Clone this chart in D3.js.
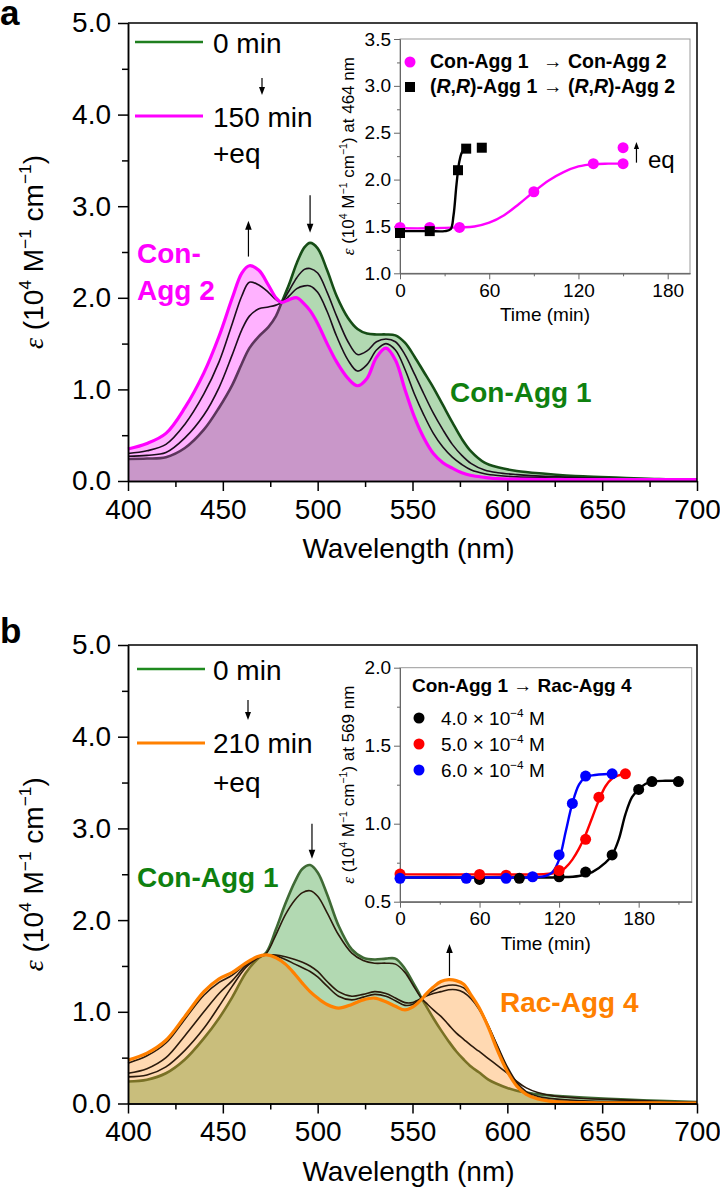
<!DOCTYPE html>
<html><head><meta charset="utf-8">
<script src="https://cdn.jsdelivr.net/npm/d3@7"></script>
<style>body{margin:0;background:#fff}svg{display:block;background:#fff}</style>
</head><body><svg id="c" width="720" height="1195"></svg>
<script>
// ---------------- DATA ----------------
const WL_TICKS = [400,450,500,550,600,650,700];
const WL_MINOR = [425,475,525,575,625,675];
const EPS_TICKS = [0,1,2,3,4,5];
const EPS_MINOR = [0.5,1.5,2.5,3.5,4.5];

// Panel a spectra
const WL_A = [400,410,420,430,440,448,455,460,464,469,474,478,481,485,489,493,496,500,505,510,516,521,526,531,536,541,546,551,556,561,566,571,576,581,588,595,605,620,640,660,680,700];
const A_0MIN = [0.24,0.245,0.26,0.36,0.56,0.80,1.05,1.28,1.45,1.58,1.68,1.80,1.95,2.15,2.38,2.55,2.60,2.54,2.30,2.02,1.78,1.66,1.61,1.60,1.60,1.59,1.51,1.36,1.19,1.02,0.83,0.64,0.46,0.32,0.20,0.15,0.11,0.08,0.05,0.035,0.02,0.015];
const A_T1 = [0.27,0.28,0.31,0.47,0.72,1.02,1.38,1.65,1.80,1.88,1.90,1.92,1.95,2.08,2.22,2.31,2.32,2.27,2.06,1.80,1.52,1.38,1.42,1.52,1.55,1.52,1.38,1.17,0.95,0.74,0.56,0.40,0.28,0.19,0.12,0.09,0.07,0.05,0.035,0.025,0.02,0.015];
const A_T2 = [0.30,0.33,0.40,0.62,0.95,1.30,1.72,2.02,2.17,2.14,2.06,1.98,1.95,2.02,2.10,2.13,2.13,2.06,1.85,1.58,1.32,1.20,1.27,1.43,1.50,1.43,1.22,0.95,0.72,0.52,0.37,0.26,0.18,0.12,0.08,0.06,0.045,0.035,0.025,0.02,0.02,0.015];
const A_150MIN = [0.35,0.41,0.52,0.80,1.18,1.58,2.00,2.27,2.35,2.30,2.14,2.00,1.95,1.98,2.00,1.93,1.86,1.72,1.50,1.30,1.12,1.04,1.12,1.35,1.45,1.32,1.00,0.70,0.47,0.30,0.20,0.14,0.09,0.06,0.04,0.025,0.02,0.015,0.015,0.015,0.015,0.015];

// Panel b spectra
const WL_B = [400,410,420,430,440,448,455,462,468,473,478,483,488,492,496,500,505,511,518,524,530,536,541,546,550,553,555,557,561,565,569,573,577,581,585,590,595,600,605,610,616,625,640,660,680,700];
const B_0MIN = [0.24,0.26,0.33,0.48,0.71,0.93,1.16,1.42,1.57,1.65,1.90,2.18,2.42,2.56,2.60,2.52,2.28,1.94,1.68,1.59,1.57,1.58,1.58,1.47,1.33,1.22,1.14,1.07,0.93,0.80,0.68,0.57,0.48,0.40,0.34,0.26,0.21,0.17,0.14,0.12,0.10,0.085,0.065,0.045,0.03,0.015];
const B_T1 = [0.29,0.31,0.40,0.58,0.82,1.06,1.28,1.48,1.58,1.64,1.84,2.06,2.22,2.30,2.32,2.26,2.08,1.84,1.64,1.56,1.53,1.53,1.52,1.43,1.30,1.20,1.14,1.10,1.02,0.95,0.86,0.77,0.70,0.63,0.57,0.49,0.41,0.33,0.24,0.17,0.12,0.08,0.055,0.04,0.025,0.012];
const B_T2 = [0.33,0.38,0.50,0.74,1.00,1.20,1.34,1.50,1.59,1.62,1.62,1.60,1.57,1.54,1.50,1.44,1.33,1.22,1.17,1.19,1.22,1.20,1.15,1.10,1.10,1.13,1.15,1.17,1.20,1.22,1.24,1.24,1.21,1.14,1.03,0.84,0.62,0.40,0.23,0.13,0.08,0.05,0.03,0.02,0.015,0.01];
const B_T3 = [0.44,0.52,0.66,0.92,1.18,1.32,1.40,1.52,1.60,1.62,1.61,1.57,1.52,1.48,1.44,1.38,1.28,1.17,1.13,1.16,1.19,1.17,1.12,1.07,1.08,1.12,1.15,1.18,1.23,1.27,1.29,1.29,1.26,1.17,1.05,0.85,0.61,0.38,0.21,0.11,0.06,0.03,0.02,0.015,0.01,0.008];
const B_210MIN = [0.475,0.55,0.69,0.95,1.22,1.36,1.43,1.53,1.60,1.62,1.59,1.52,1.41,1.31,1.22,1.15,1.08,1.04,1.08,1.13,1.15,1.11,1.06,1.02,1.05,1.10,1.14,1.19,1.27,1.33,1.35,1.34,1.30,1.18,1.05,0.83,0.57,0.35,0.19,0.10,0.05,0.02,0.01,0.008,0.006,0.005];

// Inset a (epsilon at 464 nm vs time)
const IA_X_TICKS = [0,60,120,180], IA_X_MINOR = [30,90,150];
const IA_Y_TICKS = [1.0,1.5,2.0,2.5,3.0,3.5], IA_Y_MINOR = [1.25,1.75,2.25,2.75,3.25];
const CON_T = [0,20,40,90,130,150];
const CON_E = [1.49,1.49,1.49,1.87,2.17,2.17];
const CON_EQ_T = [150], CON_EQ_E = [2.34];
const CON_FIT_T = [0,20,40,50,60,70,80,90,100,110,120,130,140,150];
const CON_FIT_E = [1.48,1.48,1.49,1.50,1.54,1.62,1.74,1.87,1.99,2.08,2.14,2.165,2.17,2.17];
const RR_T = [0,20,39,44.5,55];
const RR_E = [1.43,1.45,2.10,2.33,2.34];
const RR_FIT_T = [0,20,30,34,36,38,40,42,45];
const RR_FIT_E = [1.45,1.45,1.45,1.47,1.62,1.95,2.20,2.30,2.33];

// Inset b (epsilon at 569 nm vs time)
const IB_X_TICKS = [0,60,120,180], IB_X_MINOR = [30,90,150,210];
const IB_Y_TICKS = [0.5,1.0,1.5,2.0], IB_Y_MINOR = [0.75,1.25,1.75];
const C4_T = [60,90,120,140,160,180,190,210];
const C4_E = [0.643,0.65,0.66,0.69,0.80,1.22,1.27,1.27];
const C5_T = [0,60,80,120,140,150,170];
const C5_E = [0.677,0.675,0.67,0.70,0.90,1.17,1.32];
const C6_T = [0,50,80,100,120,130,140,160];
const C6_E = [0.65,0.65,0.65,0.66,0.80,1.13,1.305,1.32];
const C4_FIT_T = [0,60,120,135,145,155,160,165,170,175,180,185,190,200,210];
const C4_FIT_E = [0.655,0.655,0.657,0.665,0.69,0.75,0.80,0.90,1.06,1.17,1.22,1.255,1.27,1.275,1.275];
const C5_FIT_T = [0,60,110,120,125,130,135,140,145,150,155,160,165,170];
const C5_FIT_E = [0.675,0.675,0.678,0.69,0.72,0.77,0.84,0.93,1.04,1.15,1.24,1.29,1.31,1.32];
const C6_FIT_T = [0,60,100,110,115,120,125,130,135,140,145,150,160];
const C6_FIT_E = [0.655,0.655,0.657,0.665,0.69,0.77,0.95,1.13,1.25,1.30,1.31,1.315,1.32];

// ---------------- DRAWING ----------------
const FONT = "'Liberation Sans', Arial, Helvetica, sans-serif";
const SERIF = "'Liberation Serif', 'Times New Roman', serif";
const svg = d3.select("#c");

function rich(g, x, y, parts, size, attrs) {
  const t = g.append("text").attr("x", x).attr("y", y).attr("font-size", size).attr("font-family", FONT);
  Object.entries(attrs || {}).forEach(([k, v]) => t.attr(k, v));
  let shift = 0;
  parts.forEach(p => {
    const s = t.append("tspan").text(p.t);
    const target = p.sup ? -size * 0.42 : 0;
    if (target !== shift) { s.attr("dy", target - shift); shift = target; }
    if (p.sup) s.attr("font-size", size * 0.62);
    if (p.italic) s.attr("font-style", "italic");
    if (p.serif) s.attr("font-family", SERIF);
    if (p.bold) s.attr("font-weight", "bold");
    if (p.normal) s.attr("font-weight", "normal");
  });
  return t;
}

function arrow(g, x, y1, y2, hl = 9, hw = 3.3) {
  const dir = Math.sign(y2 - y1);
  g.append("line").attr("x1", x).attr("x2", x).attr("y1", y1).attr("y2", y2 - dir * hl * 0.7)
    .attr("stroke", "#000").attr("stroke-width", 1.2);
  g.append("path").attr("d", `M${x},${y2}L${x - hw},${y2 - dir * hl}L${x + hw},${y2 - dir * hl}Z`).attr("fill", "#000");
}

function styleAxis(sel, size, color, sw) {
  sel.attr("font-family", FONT).attr("font-size", size);
  sel.select(".domain").attr("stroke", color).attr("stroke-width", sw);
  sel.selectAll(".tick line").attr("stroke", color).attr("stroke-width", sw);
  sel.selectAll(".tick text").attr("fill", "#000");
}

function mainPanel(c) {
  const g = svg.append("g");
  const x = d3.scaleLinear().domain([400, 700]).range([128, 697]);
  const y = d3.scaleLinear().domain([0, 5]).range([c.yBottom, c.yTop]);
  const curve = d3.curveCatmullRom.alpha(0.5);
  const area = vals => d3.area().x((d, i) => x(c.wl[i])).y0(y(0)).y1(d => y(d)).curve(curve)(vals);
  const line = vals => d3.line().x((d, i) => x(c.wl[i])).y(d => y(d)).curve(curve)(vals);

  g.append("path").attr("d", area(c.start)).attr("fill", c.startFill).attr("fill-opacity", 0.3);
  g.append("path").attr("d", line(c.start)).attr("fill", "none").attr("stroke", c.startLine).attr("stroke-width", 2.6);
  g.append("path").attr("d", area(c.end)).attr("fill", c.endFill).attr("fill-opacity", 0.3);
  c.inter.forEach(s => g.append("path").attr("d", line(s)).attr("fill", "none")
    .attr("stroke", c.interColor).attr("stroke-width", 1.6));
  g.append("path").attr("d", line(c.end)).attr("fill", "none").attr("stroke", c.endLine).attr("stroke-width", 3.2);

  // axes
  const bx = g.append("g").attr("transform", `translate(0,${y(0)})`)
    .call(d3.axisBottom(x).tickValues(WL_TICKS).tickFormat(d3.format("d")).tickSize(10).tickPadding(8).tickSizeOuter(0));
  styleAxis(bx, 28, "#000", 1.5);
  const bxm = g.append("g").attr("transform", `translate(0,${y(0)})`)
    .call(d3.axisBottom(x).tickValues(WL_MINOR).tickFormat("").tickSize(6).tickSizeOuter(0));
  styleAxis(bxm, 28, "#000", 1.5);
  const ly = g.append("g").attr("transform", `translate(${x(400)},0)`)
    .call(d3.axisLeft(y).tickValues(EPS_TICKS).tickFormat(d3.format(".1f")).tickSize(10).tickPadding(7).tickSizeOuter(0));
  styleAxis(ly, 28, "#000", 1.5);
  const lym = g.append("g").attr("transform", `translate(${x(400)},0)`)
    .call(d3.axisLeft(y).tickValues(EPS_MINOR).tickFormat("").tickSize(6).tickSizeOuter(0));
  styleAxis(lym, 28, "#000", 1.5);
  g.append("path").attr("d", `M${x(400)},${y(5)}H${x(700)}V${y(0)}`).attr("fill", "none").attr("stroke", "#000").attr("stroke-width", 1.5);

  // axis titles
  g.append("text").attr("x", (x(400) + x(700)) / 2 - 4).attr("y", y(0) + 77).attr("text-anchor", "middle")
    .attr("font-family", FONT).attr("font-size", 28).text("Wavelength (nm)");
  rich(g, 0, 0, [{t: "ε", italic: true, serif: true}, {t: " (10"}, {t: "4", sup: true}, {t: " M"}, {t: "−1", sup: true},
    {t: " cm"}, {t: "−1", sup: true}, {t: ")"}], 28,
    {"text-anchor": "middle", transform: `translate(43,${(y(0) + y(5)) / 2}) rotate(-90)`});

  // annotation arrows
  c.arrows.forEach(a => arrow(g, x(a.wl), y(a.from), y(a.to)));
  return {g, x, y};
}

function inset(c) {
  const g = svg.append("g");
  const x = d3.scaleLinear().domain(c.xDom).range([400, c.xRight]);
  const y = d3.scaleLinear().domain(c.yDom).range([c.yBottom, c.yTop]);
  g.append("rect").attr("x", 400).attr("y", c.yTop).attr("width", c.xRight - 400).attr("height", c.yBottom - c.yTop)
    .attr("fill", "none").attr("stroke", "#9a9a9a").attr("stroke-width", 1);
  const ax = g.append("g").attr("transform", `translate(0,${c.yBottom})`)
    .call(d3.axisBottom(x).tickValues(c.xTicks).tickFormat(d3.format("d")).tickSize(6).tickPadding(4).tickSizeOuter(0));
  styleAxis(ax, 19, "#666", 1);
  const axm = g.append("g").attr("transform", `translate(0,${c.yBottom})`)
    .call(d3.axisBottom(x).tickValues(c.xMinor).tickFormat("").tickSize(3).tickSizeOuter(0));
  styleAxis(axm, 19, "#666", 1);
  const ay = g.append("g").attr("transform", `translate(400,0)`)
    .call(d3.axisLeft(y).tickValues(c.yTicks).tickFormat(d3.format(".1f")).tickSize(6).tickPadding(3).tickSizeOuter(0));
  styleAxis(ay, 19, "#666", 1);
  const aym = g.append("g").attr("transform", `translate(400,0)`)
    .call(d3.axisLeft(y).tickValues(c.yMinor).tickFormat("").tickSize(3).tickSizeOuter(0));
  styleAxis(aym, 19, "#666", 1);
  g.append("text").attr("x", (400 + c.xRight) / 2).attr("y", c.yBottom + 48).attr("text-anchor", "middle")
    .attr("font-family", FONT).attr("font-size", 19).text("Time (min)");
  rich(g, 0, 0, [{t: "ε", italic: true, serif: true}, {t: " (10"}, {t: "4", sup: true}, {t: " M"}, {t: "−1", sup: true},
    {t: " cm"}, {t: "−1", sup: true}, {t: ") at " + c.nm + " nm"}], 17,
    {"text-anchor": "middle", transform: `translate(354,${(c.yTop + c.yBottom) / 2}) rotate(-90)`});
  return {g, x, y};
}

function fitLine(I, T, E, color) {
  I.g.append("path").attr("d", d3.line().x((d, i) => I.x(T[i])).y(d => I.y(d)).curve(d3.curveCatmullRom.alpha(0.5))(E))
    .attr("fill", "none").attr("stroke", color).attr("stroke-width", 2.4);
}
function dots(I, T, E, color, r = 5.5) {
  I.g.selectAll(null).data(E).enter().append("circle").attr("cx", (d, i) => I.x(T[i])).attr("cy", d => I.y(d))
    .attr("r", r).attr("fill", color);
}
function squares(I, T, E, color, s = 10) {
  I.g.selectAll(null).data(E).enter().append("rect").attr("x", (d, i) => I.x(T[i]) - s / 2).attr("y", d => I.y(d) - s / 2)
    .attr("width", s).attr("height", s).attr("fill", color);
}

// ---------- Panel a ----------
const PA = mainPanel({
  yBottom: 481, yTop: 23, wl: WL_A, start: A_0MIN, end: A_150MIN, inter: [A_T1, A_T2],
  startFill: "#008000", startLine: "#164d16", endFill: "#ff00ff", endLine: "#ff00ff", interColor: "#1c0d1c",
  arrows: [{wl: 463.5, from: 2.45, to: 2.84}, {wl: 496, from: 3.12, to: 2.71}]
});
svg.append("text").attr("x", 0).attr("y", 25).attr("font-family", FONT).attr("font-weight", "bold").attr("font-size", 35).text("a");
// legend a
svg.append("line").attr("x1", 135).attr("x2", 203).attr("y1", 42).attr("y2", 42).attr("stroke", "#1f7f1f").attr("stroke-width", 2.6);
svg.append("text").attr("x", 213).attr("y", 53).attr("font-family", FONT).attr("font-size", 28).text("0 min");
arrow(svg, 262, 78, 95, 8, 3);
svg.append("line").attr("x1", 135).attr("x2", 203).attr("y1", 116).attr("y2", 116).attr("stroke", "#ff00ff").attr("stroke-width", 3);
svg.append("text").attr("x", 213).attr("y", 127).attr("font-family", FONT).attr("font-size", 28).text("150 min");
svg.append("text").attr("x", 213).attr("y", 163).attr("font-family", FONT).attr("font-size", 28).text("+eq");
// labels a
svg.append("text").attr("x", 137).attr("y", 263).attr("font-family", FONT).attr("font-weight", "bold").attr("font-size", 28).attr("fill", "#ff00ff").text("Con-");
svg.append("text").attr("x", 137).attr("y", 300).attr("font-family", FONT).attr("font-weight", "bold").attr("font-size", 28).attr("fill", "#ff00ff").text("Agg 2");
svg.append("text").attr("x", 450).attr("y", 402).attr("font-family", FONT).attr("font-weight", "bold").attr("font-size", 28).attr("fill", "#0f800f").text("Con-Agg 1");

// inset a
const IA = inset({xDom: [0, 195], xRight: 690, yDom: [1.0, 3.5], yBottom: 273.3, yTop: 39,
  xTicks: IA_X_TICKS, xMinor: IA_X_MINOR, yTicks: IA_Y_TICKS, yMinor: IA_Y_MINOR, nm: 464});
fitLine(IA, CON_FIT_T, CON_FIT_E, "#ff00ff");
fitLine(IA, RR_FIT_T, RR_FIT_E, "#000");
dots(IA, CON_T, CON_E, "#ff00ff");
dots(IA, CON_EQ_T, CON_EQ_E, "#ff00ff");
squares(IA, RR_T, RR_E, "#000");
IA.g.append("circle").attr("cx", 410).attr("cy", 62).attr("r", 5.5).attr("fill", "#ff00ff");
rich(IA.g, 430, 68, [{t: "Con-Agg 1"}], 19.5, {"font-weight": "bold"});
rich(IA.g, 543, 68, [{t: "→ ", normal: true}, {t: "Con-Agg 2"}], 19.5, {"font-weight": "bold"});
IA.g.append("rect").attr("x", 405).attr("y", 82).attr("width", 10).attr("height", 10).attr("fill", "#000");
rich(IA.g, 430, 93, [{t: "("}, {t: "R", italic: true}, {t: ","}, {t: "R", italic: true}, {t: ")-Agg 1"}], 19.5, {"font-weight": "bold"});
rich(IA.g, 543, 93, [{t: "→ ", normal: true}, {t: "("}, {t: "R", italic: true}, {t: ","}, {t: "R", italic: true}, {t: ")-Agg 2"}], 19.5, {"font-weight": "bold"});
arrow(IA.g, IA.x(159), IA.y(2.17) - 1, IA.y(2.40), 7, 2.6);
IA.g.append("text").attr("x", 648).attr("y", 168).attr("font-family", FONT).attr("font-size", 24).text("eq");

// ---------- Panel b ----------
const PB = mainPanel({
  yBottom: 1103.5, yTop: 645, wl: WL_B, start: B_0MIN, end: B_210MIN, inter: [B_T1, B_T2, B_T3],
  startFill: "#008000", startLine: "#3f6a35", endFill: "#ff8000", endLine: "#ff8000", interColor: "#2b1a0c",
  arrows: [{wl: 497, from: 3.05, to: 2.67}, {wl: 569.5, from: 1.39, to: 1.74}]
});
svg.append("text").attr("x", 0).attr("y", 643).attr("font-family", FONT).attr("font-weight", "bold").attr("font-size", 35).text("b");
svg.append("line").attr("x1", 137).attr("x2", 205).attr("y1", 669).attr("y2", 669).attr("stroke", "#1f8a1f").attr("stroke-width", 2.6);
svg.append("text").attr("x", 213).attr("y", 680).attr("font-family", FONT).attr("font-size", 28).text("0 min");
arrow(svg, 248, 700, 720, 8, 3);
svg.append("line").attr("x1", 137).attr("x2", 205).attr("y1", 743).attr("y2", 743).attr("stroke", "#ff8000").attr("stroke-width", 3);
svg.append("text").attr("x", 213).attr("y", 753).attr("font-family", FONT).attr("font-size", 28).text("210 min");
svg.append("text").attr("x", 213).attr("y", 792).attr("font-family", FONT).attr("font-size", 28).text("+eq");
svg.append("text").attr("x", 137).attr("y", 887).attr("font-family", FONT).attr("font-weight", "bold").attr("font-size", 28).attr("fill", "#0f800f").text("Con-Agg 1");
svg.append("text").attr("x", 500).attr("y", 1012).attr("font-family", FONT).attr("font-weight", "bold").attr("font-size", 28).attr("fill", "#ff8000").text("Rac-Agg 4");

// inset b
const IB = inset({xDom: [0, 220], xRight: 691.7, yDom: [0.5, 2.0], yBottom: 901.7, yTop: 667.7,
  xTicks: IB_X_TICKS, xMinor: IB_X_MINOR, yTicks: IB_Y_TICKS, yMinor: IB_Y_MINOR, nm: 569});
fitLine(IB, C4_FIT_T, C4_FIT_E, "#000");
fitLine(IB, C5_FIT_T, C5_FIT_E, "#ff0000");
fitLine(IB, C6_FIT_T, C6_FIT_E, "#0000ff");
dots(IB, C4_T, C4_E, "#000");
dots(IB, C5_T, C5_E, "#ff0000");
dots(IB, C6_T, C6_E, "#0000ff");
rich(IB.g, 412, 692, [{t: "Con-Agg 1 → Rac-Agg 4"}], 19, {"font-weight": "bold"});
const LEG_B = [["4.0", "#000"], ["5.0", "#ff0000"], ["6.0", "#0000ff"]];
LEG_B.forEach(([v, col], i) => {
  const yy = 718 + i * 26;
  IB.g.append("circle").attr("cx", 419).attr("cy", yy).attr("r", 5.5).attr("fill", col);
  rich(IB.g, 441, yy + 7, [{t: v + " × 10"}, {t: "−4", sup: true}, {t: " M"}], 19);
});
</script></body></html>
